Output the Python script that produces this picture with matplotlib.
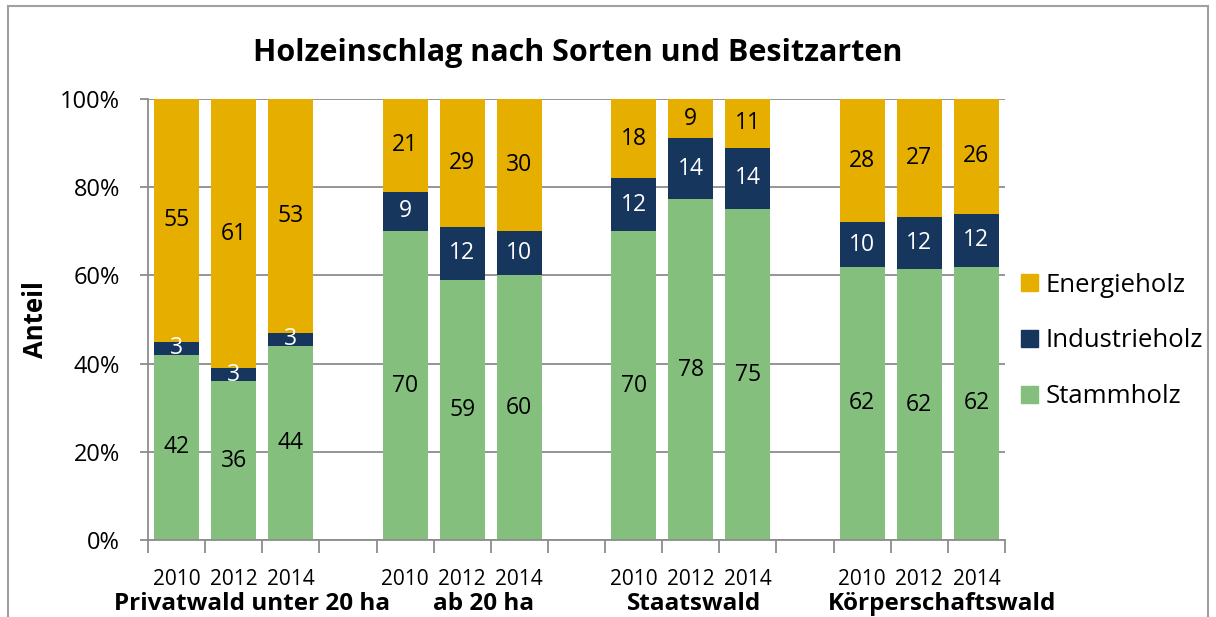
import matplotlib.pyplot as plt
import matplotlib.patches as mpatches
import numpy as np

plt.rcParams['font.family'] = ['Open Sans', 'DejaVu Sans']

# data (percent)
years = ['2010', '2012', '2014']
groups = ['Privatwald unter 20 ha', 'ab 20 ha', 'Staatswald', 'Körperschaftswald']
stammholz = [42, 36, 44, 70, 59, 60, 70, 78, 75, 62, 62, 62]
industrieholz = [3, 3, 3, 9, 12, 10, 12, 14, 14, 10, 12, 12]
energieholz = [55, 61, 53, 21, 29, 30, 18, 9, 11, 28, 27, 26]

c_energie = '#E6AF00'
c_industrie = '#17365D'
c_stamm = '#84BF7E'

# bar slots: 3 bars per group + one empty slot between groups
pos = []
for g in range(len(groups)):
    for y in range(len(years)):
        pos.append(g * 4 + y)
pos = np.array(pos)

s = np.array(stammholz, dtype=float)
i = np.array(industrieholz, dtype=float)
e = np.array(energieholz, dtype=float)
tot = s + i + e
s_p, i_p, e_p = s / tot * 100, i / tot * 100, e / tot * 100

fig = plt.figure(figsize=(12.16, 6.17), dpi=100)
ax = fig.add_axes([148 / 1216, 1 - 540 / 617, 857 / 1216, 441 / 617])

w = 0.79
ax.bar(pos, s_p, w, color=c_stamm, zorder=2)
ax.bar(pos, i_p, w, bottom=s_p, color=c_industrie, zorder=2)
ax.bar(pos, e_p, w, bottom=s_p + i_p, color=c_energie, zorder=2)

fs = 16.5
for k in range(len(pos)):
    ax.text(pos[k], s_p[k] / 2, str(stammholz[k]), ha='center', va='center', fontsize=fs, color='black', zorder=3)
    ax.text(pos[k], s_p[k] + i_p[k] / 2, str(industrieholz[k]), ha='center', va='center', fontsize=fs, color='white', zorder=3)
    ax.text(pos[k], s_p[k] + i_p[k] + e_p[k] / 2, str(energieholz[k]), ha='center', va='center', fontsize=fs, color='black', zorder=3)

ax.set_xlim(-0.5, 14.5)
ax.set_ylim(0, 100)
ax.set_yticks(range(0, 101, 20))
ax.set_yticklabels([f'{v}%' for v in range(0, 101, 20)], fontsize=17)
ax.yaxis.grid(True, color='#8C8C8C', linewidth=1.3, zorder=0)
ax.set_axisbelow(True)

ax.set_xticks(pos)
ax.set_xticklabels(years * len(groups), fontsize=15)
ax.set_xticks(np.arange(-0.5, 15, 1), minor=True)
ax.tick_params(axis='x', which='major', length=0, pad=21)
ax.tick_params(axis='x', which='minor', length=9, color='#8C8C8C', width=1.3)
ax.tick_params(axis='y', length=6, color='#8C8C8C', width=1.3, pad=14)

for side in ['top', 'right']:
    ax.spines[side].set_visible(False)
for side in ['left', 'bottom']:
    ax.spines[side].set_color('#8C8C8C')
    ax.spines[side].set_linewidth(1.3)

group_x = [1.32, 5.38, 9.06, 13.4]
for gx, name in zip(group_x, groups):
    ax.text(gx, -14.6, name, ha='center', va='center', fontsize=17.5, fontweight='bold', clip_on=False)

ax.set_ylabel('Anteil', fontsize=18.5, fontweight='bold', labelpad=8)
fig.text(578 / 1216, 1 - 53 / 617, 'Holzeinschlag nach Sorten und Besitzarten',
         ha='center', va='center', fontsize=22, fontweight='bold')

handles = [mpatches.Patch(color=c_energie, label='Energieholz'),
           mpatches.Patch(color=c_industrie, label='Industrieholz'),
           mpatches.Patch(color=c_stamm, label='Stammholz')]
fig.legend(handles=handles, loc='center left', bbox_to_anchor=(1021 / 1216, 1 - 341 / 617),
           frameon=False, fontsize=18.5, handlelength=0.66, handleheight=0.66,
           handletextpad=0.3, labelspacing=1.2, borderpad=0, borderaxespad=0)

fig.patches.append(mpatches.Rectangle((8 / 1216, -0.02), 1200 / 1216, 1 - 6 / 617 + 0.02,
                                      transform=fig.transFigure, fill=False,
                                      edgecolor='#A0A0A0', linewidth=1.5))

fig.savefig('out.png', dpi=100)
